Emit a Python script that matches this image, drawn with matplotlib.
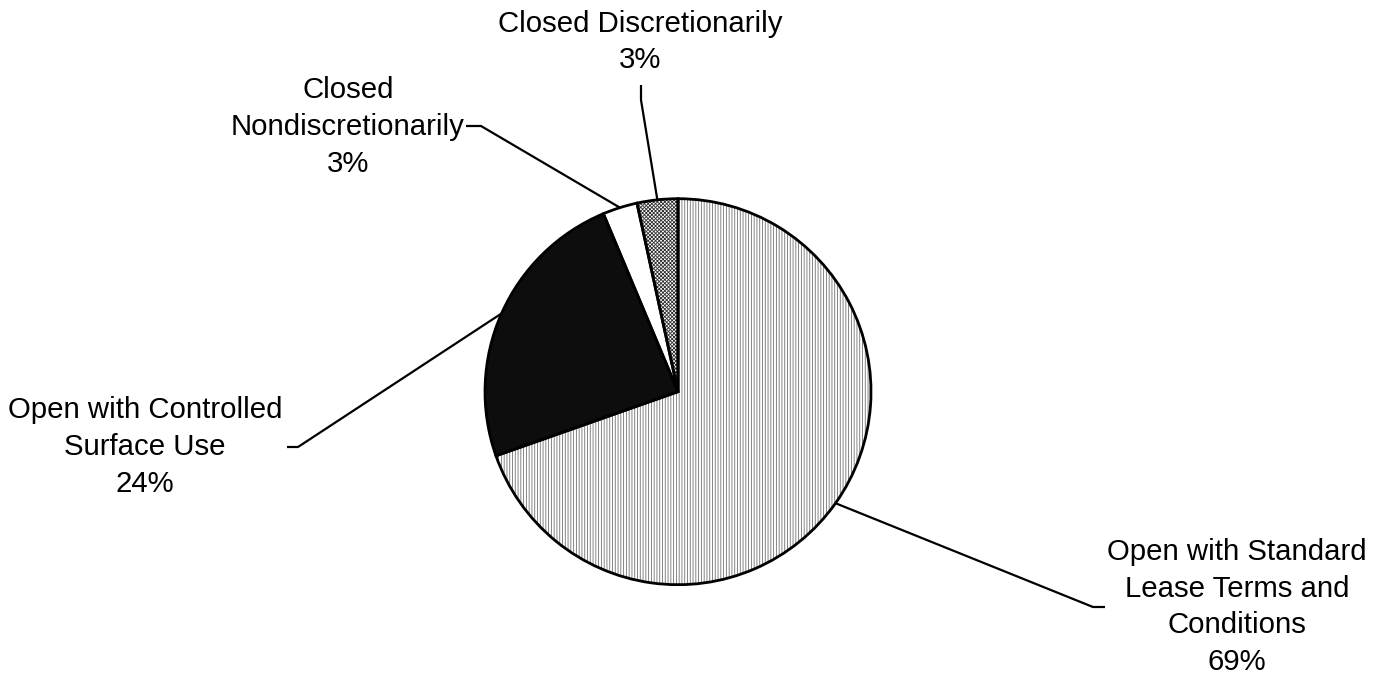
import matplotlib.pyplot as plt
import numpy as np

categories = ['Open with Standard\nLease Terms and\nConditions',
              'Open with Controlled\nSurface Use',
              'Closed\nNondiscretionarily',
              'Closed Discretionarily']
values = [69.4, 24.0, 2.9, 3.4]
pct_labels = ['69%', '24%', '3%', '3%']

W, H = 1385, 674
plt.rcParams['font.family'] = ['Liberation Sans', 'DejaVu Sans']


def main():
    fig = plt.figure(figsize=(W / 100, H / 100), dpi=100)
    ax = fig.add_axes([0, 0, 1, 1])

    cx, cy, r = 678, H - 391.7, 193
    fills = ['white', '#0d0d0d', 'white', 'white']
    hatches = ['||||||', None, None, 'xxxxxxxxx']
    hcolors = ['#707070', '#0d0d0d', 'white', '#303030']

    plt.rcParams['hatch.linewidth'] = 0.6
    wedges, _ = ax.pie(values, center=(cx, cy), radius=r, startangle=90,
                       counterclock=False, colors=fills,
                       wedgeprops=dict(linewidth=0))
    for w, h, hc in zip(wedges, hatches, hcolors):
        w.set_edgecolor(hc)
        if h:
            w.set_hatch(h)
    # black outlines on top
    ax.pie(values, center=(cx, cy), radius=r, startangle=90,
           counterclock=False,
           wedgeprops=dict(fill=False, edgecolor='black', linewidth=2.0))

    # label block centres and leader elbows (pixels from top-left)
    label_pos = [(1237, 607), (145, 447), (348, 127), (640, 42)]
    elbows = [[(1093, 607), (1105, 607)],
              [(298, 447), (287, 447)],
              [(481, 126), (466, 126)],
              [(641, 100), (641, 85)]]

    for w, lab, pct, (lx, ly), elb in zip(wedges, categories, pct_labels,
                                         label_pos, elbows):
        mid = np.deg2rad((w.theta1 + w.theta2) / 2)
        ex, ey = cx + r * np.cos(mid), cy + r * np.sin(mid)
        xs = [ex] + [p[0] for p in elb]
        ys = [ey] + [H - p[1] for p in elb]
        ax.plot(xs, ys, color='black', linewidth=1.6, solid_capstyle='butt')
        ax.text(lx, H - ly, lab + '\n' + pct, ha='center', va='center',
                fontsize=21.2, linespacing=1.4, color='black')

    ax.set_xlim(0, W)
    ax.set_ylim(0, H)
    ax.set_aspect('equal')
    ax.axis('off')
    fig.savefig('out.png', dpi=100, facecolor='white')


if __name__ == '__main__':
    main()
